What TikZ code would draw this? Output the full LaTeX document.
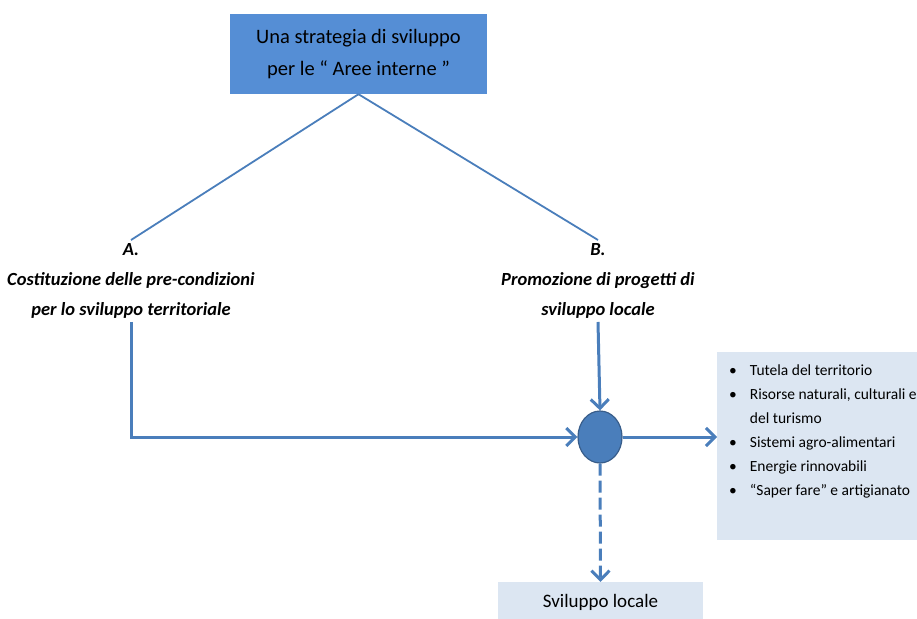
\documentclass[tikz,border=0pt]{standalone}
\usepackage{fontspec}
\setmainfont{Carlito}
\usetikzlibrary{shapes,arrows.meta,positioning}
\definecolor{blu}{RGB}{85,142,213}
\definecolor{bluscuro}{RGB}{56,93,138}
\definecolor{linea}{RGB}{74,126,187}
\definecolor{chiaro}{RGB}{220,230,242}
\tikzstyle{titolo} = [rectangle, fill=blu, align=center, minimum width=257pt,
    minimum height=80pt, font=\fontsize{20.5}{32}\selectfont]
\tikzstyle{etichetta} = [align=center, font=\bfseries\itshape\fontsize{18.5}{30}\selectfont]
\tikzstyle{riquadro} = [rectangle, fill=chiaro]
\tikzstyle{ramo} = [draw=linea, line width=1.8pt]
\tikzstyle{freccia} = [draw=linea, line width=3pt, -{Straight Barb[length=9pt,width=18pt]}]

\begin{document}
\begin{tikzpicture}[x=1pt, y=-1pt]
	\useasboundingbox (0,0) rectangle (917,618);

		\node [titolo] (strategia) at (358.5,54) {Una strategia di sviluppo\\per le `` Aree interne ''};

		\node [etichetta] (preA) at (131,281) {A.\\Costituzione delle pre-condizioni\\per lo sviluppo territoriale};
		\node [etichetta] (progB) at (598,281) {B.\\Promozione di progetti di\\sviluppo locale};

		\node [ellipse, fill=linea, draw=bluscuro, line width=1.2pt, minimum width=44pt, minimum height=52pt] (nodo) at (600,437) {};

		\node [riquadro, anchor=north west, minimum width=200pt, minimum height=188pt] (settori) at (717,352) {};
		\node [anchor=north west, inner sep=0pt, font=\fontsize{15.5}{24}\selectfont] (voci) at (729,358)
			{\begin{tabular}{@{}l@{\hspace{13pt}}l@{}}
				\textbullet & Tutela del territorio\\
				\textbullet & Risorse naturali, culturali e\\
				            & del turismo\\
				\textbullet & Sistemi agro-alimentari\\
				\textbullet & Energie rinnovabili\\
				\textbullet & ``Saper fare'' e artigianato
			\end{tabular}};

		\node [riquadro, minimum width=205pt, minimum height=40pt, font=\fontsize{19}{22}\selectfont] (sviluppo) at (600.5,602) {Sviluppo locale};

		% rami dalla strategia
		\path [ramo] (strategia.south) -- (preA.north);
		\path [ramo] (strategia.south) -- (progB.north);

		% frecce verso e dal nodo
		\path [freccia] (preA.south) |- (nodo.west);
		\path [freccia] (progB.south) -- (nodo.north);
		\path [freccia] (nodo.east) -- (nodo -| settori.west);
		\path [freccia, dash pattern=on 12pt off 5pt] (nodo.south) -- (sviluppo.north);
\end{tikzpicture}
\end{document}
